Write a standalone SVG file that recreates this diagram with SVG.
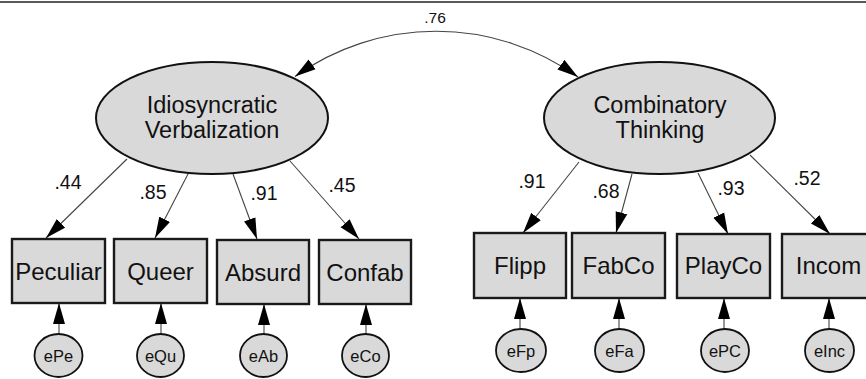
<svg xmlns="http://www.w3.org/2000/svg" width="866" height="379" viewBox="0 0 866 379">
<defs>
<marker id="ah" markerUnits="userSpaceOnUse" markerWidth="22" markerHeight="13" refX="21" refY="6" orient="auto-start-reverse" viewBox="0 0 22 12">
<path d="M0,0 L21,6 L0,12 z" fill="#000"/>
</marker>
</defs>
<style>
text{font-family:"Liberation Sans",Arial,sans-serif;fill:#111;text-anchor:middle}
.lat{fill:#d9d9d9;stroke:#111;stroke-width:2}
.obs{fill:#d9d9d9;stroke:#1a1a1a;stroke-width:2.4}
.err{fill:#d9d9d9;stroke:#111;stroke-width:1.8}
.conn line,.conn path{stroke:#444;stroke-width:1.1;fill:none;marker-end:url(#ah)}
.lt{font-size:23.5px}
.ot{font-size:24px}
.et{font-size:16.5px}
.ld{font-size:19.5px}
</style>
<rect width="866" height="379" fill="#fff"/>
<line x1="0" y1="2" x2="866" y2="2" stroke="#222" stroke-width="1.5"/>

<g class="conn" id="connectors">
<path d="M295,76.5 A243,243 0 0 1 578,77" style="marker-start:url(#ah)"/>
<line x1="127" y1="159" x2="46" y2="238"/>
<line x1="188" y1="174" x2="155" y2="238"/>
<line x1="233" y1="174" x2="257" y2="239"/>
<line x1="290" y1="161" x2="359" y2="239"/>
<line x1="579" y1="162" x2="523" y2="233"/>
<line x1="632" y1="174" x2="616" y2="233"/>
<line x1="698" y1="173" x2="728" y2="234"/>
<line x1="750" y1="155" x2="830" y2="234"/>
<line x1="59" y1="334" x2="59" y2="303"/>
<line x1="161" y1="334" x2="161" y2="303"/>
<line x1="264" y1="334" x2="264" y2="304"/>
<line x1="366" y1="334" x2="366" y2="304"/>
<line x1="520" y1="329" x2="520" y2="298"/>
<line x1="619" y1="329" x2="619" y2="298"/>
<line x1="724" y1="329" x2="724" y2="298"/>
<line x1="829" y1="329" x2="829" y2="298"/>
</g>

<g id="labels">
<text x="435" y="22.5" style="font-size:15.5px">.76</text>
<text x="68" y="189" class="ld">.44</text>
<text x="153" y="199" class="ld">.85</text>
<text x="264" y="200" class="ld">.91</text>
<text x="342" y="192" class="ld">.45</text>
<text x="532" y="188" class="ld">.91</text>
<text x="606" y="198" class="ld">.68</text>
<text x="731" y="195" class="ld">.93</text>
<text x="807" y="185" class="ld">.52</text>
</g>

<g id="IdiosyncraticVerbalization">
<ellipse cx="212" cy="118" rx="116" ry="56" class="lat"/>
<text x="212" y="113" class="lt">Idiosyncratic</text>
<text x="212" y="138" class="lt">Verbalization</text>
</g>
<g id="CombinatoryThinking">
<ellipse cx="659.5" cy="118" rx="115.5" ry="56" class="lat"/>
<text x="660" y="113" class="lt">Combinatory</text>
<text x="660" y="138" class="lt">Thinking</text>
</g>

<g id="Peculiar"><rect x="12" y="239" width="93" height="64" class="obs"/><text x="58.5" y="280" class="ot">Peculiar</text></g>
<g id="Queer"><rect x="114" y="239" width="93" height="64" class="obs"/><text x="160.5" y="280" class="ot">Queer</text></g>
<g id="Absurd"><rect x="217" y="240" width="92" height="64" class="obs"/><text x="263" y="281" class="ot">Absurd</text></g>
<g id="Confab"><rect x="319" y="240" width="92" height="64" class="obs"/><text x="365" y="281" class="ot">Confab</text></g>
<g id="Flipp"><rect x="474" y="233" width="92" height="65" class="obs"/><text x="520" y="274" class="ot">Flipp</text></g>
<g id="FabCo"><rect x="572" y="233" width="93" height="65" class="obs"/><text x="618.5" y="274" class="ot">FabCo</text></g>
<g id="PlayCo"><rect x="677" y="234" width="93" height="64" class="obs"/><text x="723.5" y="274" class="ot">PlayCo</text></g>
<g id="Incom"><rect x="782" y="234" width="93" height="64" class="obs"/><text x="828.5" y="274" class="ot">Incom</text></g>

<g id="ePe"><ellipse cx="58.5" cy="355.5" rx="24" ry="21.5" class="err"/><text x="58.5" y="361.5" class="et">ePe</text></g>
<g id="eQu"><ellipse cx="160.5" cy="355.5" rx="23.5" ry="21.5" class="err"/><text x="160.5" y="361.5" class="et">eQu</text></g>
<g id="eAb"><ellipse cx="263.5" cy="355.5" rx="23.5" ry="21.5" class="err"/><text x="263.5" y="361.5" class="et">eAb</text></g>
<g id="eCo"><ellipse cx="365.5" cy="355.5" rx="23.5" ry="21.5" class="err"/><text x="365.5" y="361.5" class="et">eCo</text></g>
<g id="eFp"><ellipse cx="521" cy="350.5" rx="25" ry="21.5" class="err"/><text x="521" y="356.5" class="et">eFp</text></g>
<g id="eFa"><ellipse cx="619.5" cy="350.5" rx="24.5" ry="21.5" class="err"/><text x="619.5" y="356.5" class="et">eFa</text></g>
<g id="ePC"><ellipse cx="725" cy="350.5" rx="24" ry="21.5" class="err"/><text x="725" y="356.5" class="et">ePC</text></g>
<g id="eInc"><ellipse cx="829.5" cy="350.5" rx="24.5" ry="21.5" class="err"/><text x="829.5" y="356.5" class="et">eInc</text></g>
</svg>
